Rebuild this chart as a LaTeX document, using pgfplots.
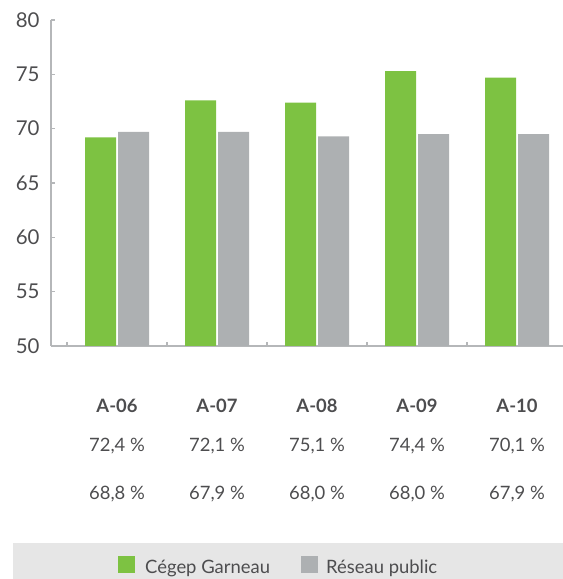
\documentclass[border=0pt]{standalone}
\usepackage{fontspec}
\setmainfont{Lato}
\usepackage{pgfplots}
\pgfplotsset{compat=1.18}
\definecolor{cgreen}{HTML}{7DC242}
\definecolor{cgray}{HTML}{ADB0B2}
\definecolor{ctext}{HTML}{4D4D4F}
\definecolor{caxis}{HTML}{B5B7B9}
\definecolor{clegbg}{HTML}{E6E6E6}
\begin{document}
\begin{tikzpicture}[x=1bp,y=1bp]
\useasboundingbox (0,0) rectangle (563,579);
\begin{axis}[
  at={(51bp,233bp)}, anchor=south west,
  scale only axis, width=512bp, height=326bp,
  xmin=-0.66, xmax=4.46, ymin=50, ymax=80,
  axis lines*=left,
  axis line style={caxis, line width=1.5bp},
  xtick={-0.5,0.5,1.5,2.5,3.5}, xticklabels={},
  ytick={50,55,...,80},
  tick align=inside, major tick length=4bp,
  tick style={caxis, line width=1.5bp},
  yticklabel style={font=\fontsize{20.5}{20.5}\selectfont, text=ctext, xshift=-8bp},
  /pgf/number format/assume math mode=true,
  clip=false,
]
\addplot[ybar, bar width=0.31, bar shift=-0.165, fill=cgreen, draw=none]
  coordinates {(0,69.2) (1,72.6) (2,72.4) (3,75.3) (4,74.7)};
\addplot[ybar, bar width=0.31, bar shift=0.165, fill=cgray, draw=none]
  coordinates {(0,69.7) (1,69.7) (2,69.3) (3,69.5) (4,69.5)};
\end{axis}
% table below
\foreach \lab/\a/\b [count=\i from 0] in {A-06/{72,4 \%}/{68,8 \%}, A-07/{72,1 \%}/{67,9 \%}, A-08/{75,1 \%}/{68,0 \%}, A-09/{74,4 \%}/{68,0 \%}, A-10/{70,1 \%}/{67,9 \%}}{
  \node[anchor=base, inner sep=0, text=ctext, font=\fontsize{18.5}{18.5}\selectfont\bfseries] at (117+100*\i,166) {\lab};
  \node[anchor=base, inner sep=0, text=ctext, font=\fontsize{18.5}{18.5}\selectfont] at (117+100*\i,127) {\a};
  \node[anchor=base, inner sep=0, text=ctext, font=\fontsize{18.5}{18.5}\selectfont] at (117+100*\i,79) {\b};
}
% legend
\fill[clegbg] (13,0) rectangle (563,36);
\fill[cgreen] (118,6) rectangle (135,23);
\node[anchor=base west, inner sep=0, text=ctext, font=\fontsize{18.5}{18.5}\selectfont] at (145,5) {Cégep Garneau};
\fill[cgray] (301,6) rectangle (318,23);
\node[anchor=base west, inner sep=0, text=ctext, font=\fontsize{18.5}{18.5}\selectfont] at (326,5) {Réseau public};
\end{tikzpicture}
\end{document}
